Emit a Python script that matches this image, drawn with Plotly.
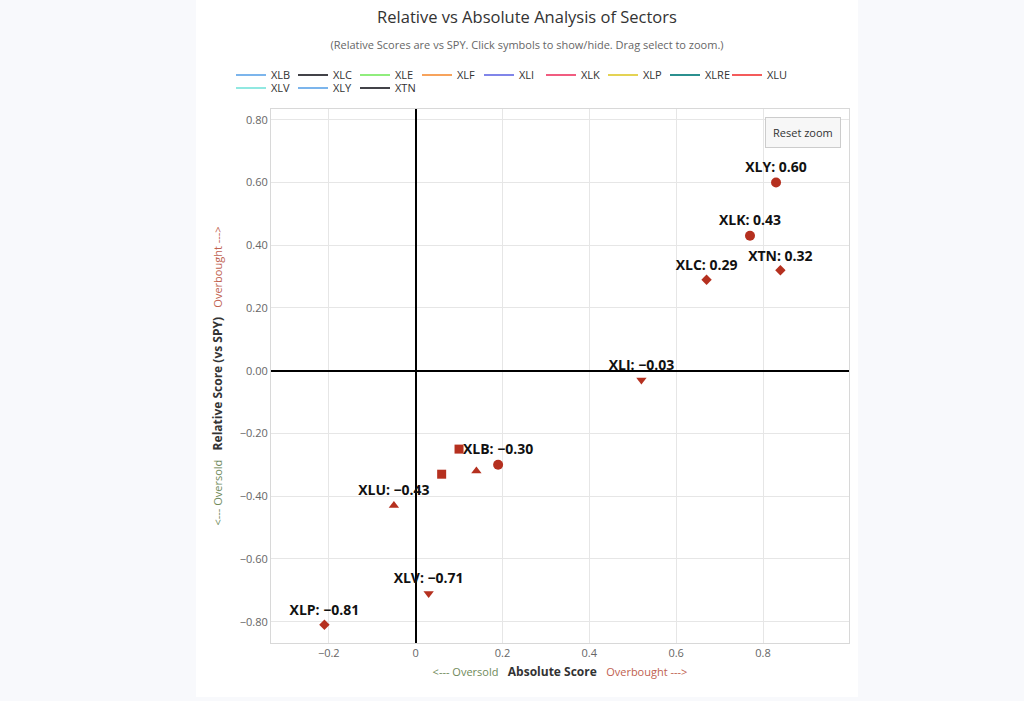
import plotly.graph_objects as go

# ---- data ----
tickers = ["XLB", "XLC", "XLE", "XLF", "XLI", "XLK", "XLP", "XLRE", "XLU", "XLV", "XLY", "XTN"]
absolute_score = [0.19, 0.67, 0.10, 0.14, 0.52, 0.77, -0.21, 0.06, -0.05, 0.03, 0.83, 0.84]
relative_score = [-0.30, 0.29, -0.25, -0.32, -0.03, 0.43, -0.81, -0.33, -0.43, -0.71, 0.60, 0.32]
show_label = [True, True, False, False, True, True, True, False, True, True, True, True]
symbols = ["circle", "diamond", "square", "triangle-up", "triangle-down",
           "circle", "diamond", "square", "triangle-up", "triangle-down",
           "circle", "diamond"]
legend_colors = ["#7cb5ec", "#434348", "#90ed7d", "#f7a35c", "#8085e9", "#f15c80",
                 "#e4d354", "#2b908f", "#f45b5b", "#91e8e1", "#7cb5ec", "#434348"]
legend_row = [1, 1, 1, 1, 1, 1, 1, 1, 1, 2, 2, 2]
x_ticks = [-0.2, 0, 0.2, 0.4, 0.6, 0.8]
y_ticks = [-0.8, -0.6, -0.4, -0.2, 0.0, 0.2, 0.4, 0.6, 0.8]

marker_color = "#b5301f"
FONT = "Open Sans"
symbol_size = {"circle": 10, "diamond": 8, "square": 9, "triangle-up": 9, "triangle-down": 9}

fig = go.Figure()

for i, t in enumerate(tickers):
    # legend entry (line sample)
    fig.add_trace(go.Scatter(
        x=[None], y=[None], mode="lines", name=t, legendgroup=t,
        legend="legend" if legend_row[i] == 1 else "legend2",
        line=dict(color=legend_colors[i], width=2), hoverinfo="skip"))
    # data point
    fig.add_trace(go.Scatter(
        x=[absolute_score[i]], y=[relative_score[i]],
        mode="markers+text" if show_label[i] else "markers",
        name=t, legendgroup=t, showlegend=False,
        marker=dict(symbol=symbols[i], color=marker_color, size=symbol_size[symbols[i]]),
        text=[f"{t}: {relative_score[i]:.2f}".replace("-", "\u2212")] if show_label[i] else None,
        textposition="top center",
        textfont=dict(family=FONT, size=14, color="#111", weight="bold"),
        cliponaxis=False))

sp = "\u00a0\u00a0\u00a0"
x_title = (f"<span style='color:#6f8a5a;font-size:11px'>&lt;--- Oversold</span>{sp}"
           f"<b>Absolute Score</b>{sp}"
           f"<span style='color:#c0614f;font-size:11px'>Overbought ---&gt;</span>")
y_title = (f"<span style='color:#6f8a5a;font-size:11px'>&lt;--- Oversold</span>{sp}"
           f"<b>Relative Score (vs SPY)</b>{sp}"
           f"<span style='color:#c0614f;font-size:11px'>Overbought ---&gt;</span>")

PL, PT, PW, PH = 271, 109, 578, 534

legend_common = dict(orientation="h", xanchor="left", yanchor="middle",
                     font=dict(family=FONT, size=11, color="#333"),
                     entrywidth=17, entrywidthmode="pixels", bgcolor="rgba(0,0,0,0)",
                     itemwidth=30, tracegroupgap=0)

fig.update_layout(
    width=1024, height=701,
    margin=dict(l=PL, r=1024 - PL - PW, t=PT, b=701 - PT - PH),
    paper_bgcolor="#f8f9fc",
    plot_bgcolor="#ffffff",
    font=dict(family=FONT, size=11, color="#666"),
    title=dict(
        text="Relative vs Absolute Analysis of Sectors",
        font=dict(family=FONT, size=16.5, color="#333"),
        x=527 / 1024, xanchor="center", y=1 - 17 / 701, yanchor="middle",
        subtitle=dict(text="(Relative Scores are vs SPY. Click symbols to show/hide. Drag select to zoom.)",
                      font=dict(family=FONT, size=11, color="#666")),
    ),
    showlegend=True,
    legend=dict(x=(231 - PL) / PW, y=(PT + PH - 75) / PH, **legend_common),
    legend2=dict(x=(231 - PL) / PW, y=(PT + PH - 88) / PH, **legend_common),
    xaxis=dict(range=[-0.333, 0.998], tickvals=x_ticks,
               showgrid=True, gridcolor="#e6e6e6", gridwidth=1,
               zeroline=True, zerolinecolor="#000", zerolinewidth=2,
               showline=True, linecolor="#d8d8d8", linewidth=1, mirror=True,
               ticks="", tickfont=dict(color="#666", size=11),
               title=dict(text=x_title, font=dict(family=FONT, size=12, color="#333"), standoff=8)),
    yaxis=dict(range=[-0.868, 0.834], tickvals=y_ticks, tickformat=".2f",
               showgrid=True, gridcolor="#e6e6e6", gridwidth=1,
               zeroline=True, zerolinecolor="#000", zerolinewidth=2,
               showline=True, linecolor="#d8d8d8", linewidth=1, mirror=True,
               ticks="", tickfont=dict(color="#666", size=11),
               title=dict(text=y_title, font=dict(family=FONT, size=12, color="#333"), standoff=14)),
    shapes=[dict(type="rect", xref="paper", yref="paper", layer="below",
                 x0=(196 - PL) / PW, x1=(858 - PL) / PW,
                 y0=(PT + PH - 697) / PH, y1=(PT + PH - 0) / PH,
                 fillcolor="#ffffff", line=dict(width=0))],
    annotations=[dict(text="Reset zoom", xref="paper", yref="paper",
                      x=(803 - PL) / PW, y=(PT + PH - 132) / PH,
                      xanchor="center", yanchor="middle", showarrow=False,
                      font=dict(family=FONT, size=11, color="#333"),
                      bgcolor="#f7f7f7", bordercolor="#cccccc", borderwidth=1, borderpad=7)],
)

fig.write_html("out.html", config={"displayModeBar": False},
               post_script="document.body.style.margin='0';document.body.style.background='#f8f9fc';")
